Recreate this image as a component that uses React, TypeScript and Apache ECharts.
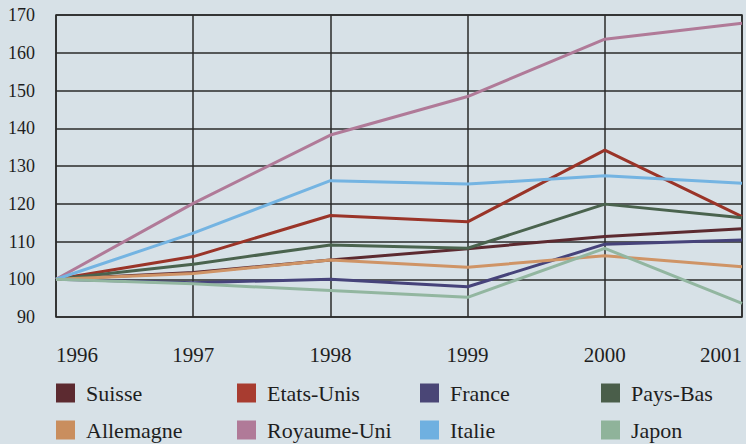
import React, { useEffect, useRef } from "react";
import * as echarts from "echarts";

const years = ["1996", "1997", "1998", "1999", "2000", "2001"];

const suisse = [100, 101.8, 105.1, 108.1, 111.3, 113.4];
const etatsUnis = [100, 106.0, 116.9, 115.2, 134.2, 116.6];
const france = [100, 99.1, 100.0, 98.0, 109.3, 110.4];
const paysBas = [100, 104.0, 109.1, 108.2, 119.9, 116.3];
const allemagne = [100, 101.5, 105.1, 103.2, 106.2, 103.3];
const royaumeUni = [100, 120.1, 138.2, 148.4, 163.6, 167.8];
const italie = [100, 112.2, 126.1, 125.2, 127.4, 125.4];
const japon = [100, 98.8, 97.0, 95.2, 108.2, 93.6];

const seriesNames = ["Suisse", "Etats-Unis", "France", "Pays-Bas", "Allemagne", "Royaume-Uni", "Italie", "Japon"];
const seriesData = [suisse, etatsUnis, france, paysBas, allemagne, royaumeUni, italie, japon];
const lineColors = ["#5c2a30", "#9a3428", "#46437a", "#4a634e", "#cf9466", "#b07a98", "#74b4e2", "#92b6a0"];
const legendColors = ["#5c2a30", "#a83c30", "#4a4676", "#4a5e4a", "#c98e5e", "#b07a98", "#6fb0e0", "#8fb39a"];

const legendCols = [56, 237, 420, 601];
const legendRows = [382, 419];

const FONT = "Liberation Serif";

export default function App() {
  const ref = useRef<HTMLDivElement>(null);
  useEffect(() => {
    if (!ref.current) return;
    const chart = echarts.init(ref.current, null, { renderer: "svg" });
    const option: any = {
      animation: false,
      backgroundColor: "#d7e1e7",
      textStyle: { fontFamily: FONT },
      grid: {
        left: 56,
        top: 15,
        width: 686,
        height: 302,
        show: true,
        borderColor: "#2a2a2a",
        borderWidth: 1.5,
      },
      xAxis: {
        type: "category",
        data: years,
        boundaryGap: false,
        axisLine: { show: false },
        axisTick: { show: false },
        axisLabel: {
          margin: 27,
          fontSize: 21,
          fontFamily: FONT,
          color: "#1e1e1e",
          alignMinLabel: "left",
          alignMaxLabel: "right",
        },
        splitLine: { show: true, lineStyle: { color: "#2a2a2a", width: 1.5 } },
      },
      yAxis: {
        type: "value",
        min: 90,
        max: 170,
        interval: 10,
        axisLine: { show: false },
        axisTick: { show: false },
        axisLabel: {
          margin: 21,
          fontSize: 18,
          fontFamily: FONT,
          color: "#1e1e1e",
        },
        splitLine: { show: true, lineStyle: { color: "#2a2a2a", width: 1.5 } },
      },
      legend: seriesNames.map((name, i) => ({
        left: legendCols[i % 4],
        top: legendRows[Math.floor(i / 4)],
        padding: 0,
        orient: "horizontal",
        icon: "rect",
        itemWidth: 19,
        itemHeight: 19,
        data: [name],
        textStyle: {
          fontSize: 22,
          lineHeight: 22,
          fontFamily: FONT,
          color: "#1e1e1e",
          padding: [0, 0, 0, 6],
        },
      })),
      series: seriesNames.map((name, i) => ({
        name,
        type: "line",
        data: seriesData[i],
        symbol: "none",
        lineStyle: { color: lineColors[i], width: 3 },
        itemStyle: { color: legendColors[i] },
        z: 3,
      })),
    };
    chart.setOption(option);
    return () => chart.dispose();
  }, []);
  return (
    <div
      ref={ref}
      style={{ position: "fixed", left: 0, top: 0, width: 746, height: 444 }}
    />
  );
}
